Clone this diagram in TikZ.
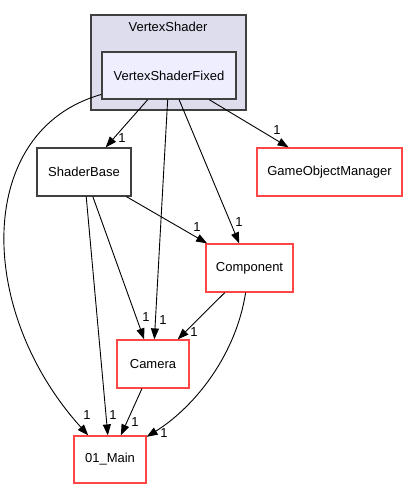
\documentclass[tikz,border=0pt]{standalone}
\usepackage{fontspec}
\setmainfont{Liberation Sans}
\usetikzlibrary{arrows.meta}
\definecolor{clfill}{RGB}{221,221,238}
\definecolor{vsfill}{RGB}{238,238,255}
\definecolor{dgray}{RGB}{64,64,64}
\definecolor{nred}{RGB}{255,70,70}
\begin{document}
\begin{tikzpicture}[x=1pt,y=-1pt,
  font=\fontsize{13}{15}\selectfont,
  box/.style={draw, fill=white, line width=1.2pt, inner sep=0pt, minimum height=48pt},
  redbox/.style={box, draw=nred},
  blackbox/.style={box, draw=dgray},
  edge/.style={draw=black, line width=0.9pt, -{Triangle[length=11pt,width=8pt]}},
  num/.style={inner sep=0pt}]
\useasboundingbox (0,0) rectangle (408,489);
% cluster
\draw[fill=clfill, draw=dgray, line width=1.2pt] (91,15) rectangle (246,110);
\node at (168,27) {VertexShader};
% nodes
\node[box, draw=dgray, fill=vsfill, line width=1.5pt, minimum width=134pt, minimum height=47pt] (vsf) at (169,75.5) {VertexShaderFixed};
\node[blackbox, minimum width=94pt] (sb) at (84,172) {ShaderBase};
\node[redbox, minimum width=145pt] (gom) at (329.5,172) {GameObjectManager};
\node[redbox, minimum width=87pt] (comp) at (249.5,268) {Component};
\node[redbox, minimum width=72pt] (cam) at (153,364) {Camera};
\node[redbox, minimum width=72pt, minimum height=47pt] (main) at (110,459.5) {01\_Main};
% edges
\draw[edge] (vsf) -- (sb);
\draw[edge] (vsf) -- (cam);
\draw[edge] (vsf) -- (comp);
\draw[edge] (vsf) -- (gom);
\draw[edge] (vsf) .. controls (-25,130) and (-25,310) .. (main);
\draw[edge] (sb) -- (comp);
\draw[edge] (sb) -- (cam);
\draw[edge] (sb) -- (main);
\draw[edge] (comp) -- (cam);
\draw[edge] (comp) .. controls (235,360) and (190,410) .. (main);
\draw[edge] (cam) -- (main);
% labels
\node[num] (l1) at (122,138) {1};
\node[num] (l2) at (277,130) {1};
\node[num] (l3) at (239,222) {1};
\node[num] (l4) at (197,227) {1};
\node[num] (l5) at (146,317) {1};
\node[num] (l6) at (163,320) {1};
\node[num] (l7) at (194,332) {1};
\node[num] (l8) at (87,415) {1};
\node[num] (l9) at (113,415) {1};
\node[num] (l10) at (135,422) {1};
\node[num] (l11) at (164,433) {1};
\end{tikzpicture}
\end{document}
